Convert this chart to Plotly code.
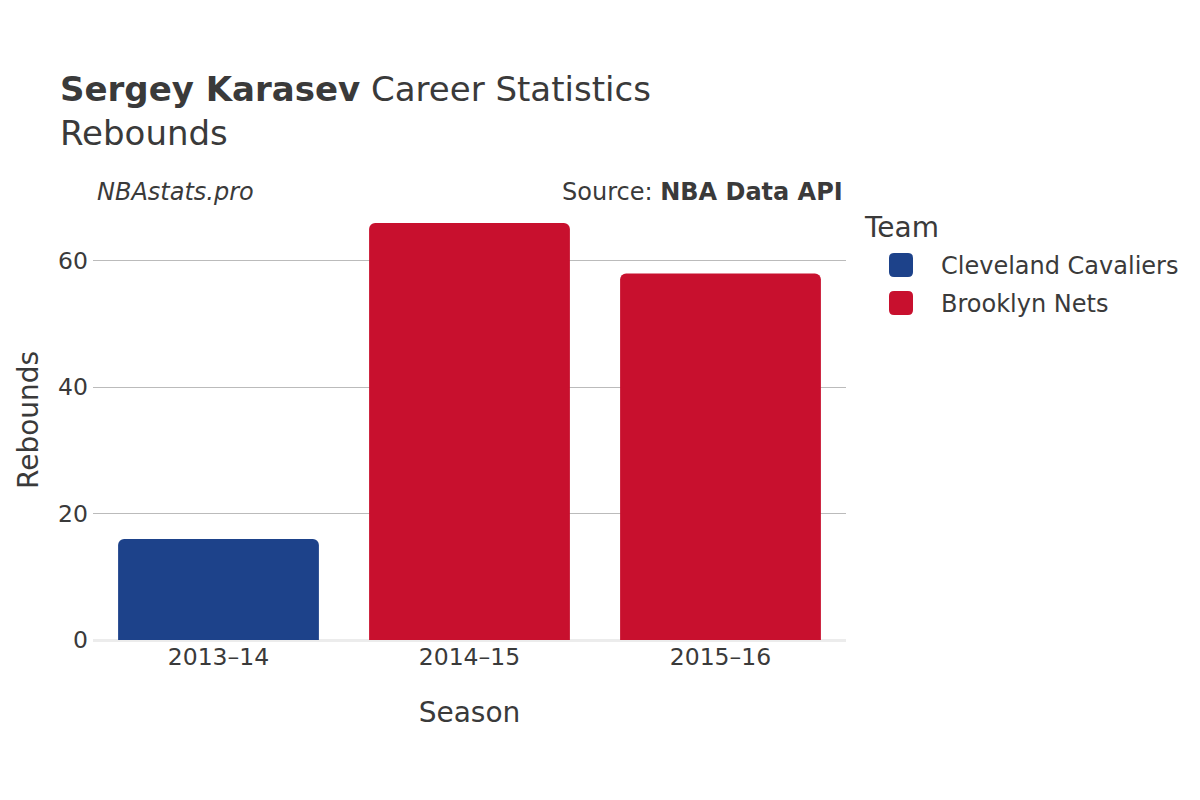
import plotly.graph_objects as go

seasons = ["2013–14", "2014–15", "2015–16"]
teams = ["Cleveland Cavaliers", "Brooklyn Nets", "Brooklyn Nets"]
rebounds = [16, 66, 58]
team_order = ["Cleveland Cavaliers", "Brooklyn Nets"]
team_colors = {"Cleveland Cavaliers": "#1D428A", "Brooklyn Nets": "#C8102E"}

FONT = "DejaVu Sans"
TXT = "#3a3a3a"

# plot area in page pixels (used only for legend/annotation placement)
PL, PR, PT, PB = 93, 846, 201, 640


def px(x):
    return (x - PL) / (PR - PL)


def py(y):
    return (PB - y) / (PB - PT)


fig = go.Figure()
for team in team_order:
    xs = [s for s, t in zip(seasons, teams) if t == team]
    ys = [v for v, t in zip(rebounds, teams) if t == team]
    fig.add_trace(go.Bar(
        x=xs, y=ys, name=team, showlegend=False,
        marker=dict(color=team_colors[team], cornerradius=6,
                    line=dict(width=0)),
    ))

# custom legend (rounded square swatches + labels)
rsq = ("M -7,-12 L 7,-12 Q 12,-12 12,-7 L 12,7 Q 12,12 7,12 "
       "L -7,12 Q -12,12 -12,7 L -12,-7 Q -12,-12 -7,-12 Z")
shapes = []
annotations = [
    dict(text="<i>NBAstats.pro</i>", xref="paper", yref="paper",
         x=0.002, y=py(192), xanchor="left", yanchor="middle",
         showarrow=False, font=dict(size=24, color=TXT)),
    dict(text="Source: <b>NBA Data API</b>", xref="paper", yref="paper",
         x=0.999, y=py(192), xanchor="right", yanchor="middle",
         showarrow=False, font=dict(size=24, color=TXT)),
    dict(text="Team", xref="paper", yref="paper",
         x=px(862), y=py(227), xanchor="left", yanchor="middle",
         showarrow=False, font=dict(size=28, color=TXT)),
    dict(text="Rebounds", xref="paper", yref="paper", textangle=-90,
         x=px(28), y=py(420), xanchor="center", yanchor="middle",
         showarrow=False, font=dict(size=28, color=TXT)),
]
for i, team in enumerate(team_order):
    cy = 265 + 38 * i
    shapes.append(dict(
        type="path", xref="paper", yref="paper",
        xsizemode="pixel", ysizemode="pixel",
        xanchor=px(901), yanchor=py(cy), path=rsq,
        fillcolor=team_colors[team], line=dict(width=0),
    ))
    annotations.append(dict(
        text=team, xref="paper", yref="paper",
        x=px(939), y=py(cy + 1), xanchor="left", yanchor="middle",
        showarrow=False, font=dict(size=24, color=TXT),
    ))

fig.update_layout(
    width=1200, height=800,
    paper_bgcolor="white", plot_bgcolor="white",
    font=dict(family=FONT, color=TXT),
    barmode="relative", bargap=0.2,
    margin=dict(l=PL - 8, r=1200 - (PR - 8), t=PT - 8, b=800 - (PB - 8)),
    title=dict(
        text="<b>Sergey Karasev</b> Career Statistics<br>Rebounds",
        x=52 / 1200, xanchor="left", y=0.884, yanchor="top",
        font=dict(size=34, family=FONT, color=TXT),
    ),
    showlegend=False,
    xaxis=dict(
        categoryorder="array", categoryarray=seasons,
        title=dict(text="Season", font=dict(size=28), standoff=32),
        tickfont=dict(size=23.5),
        showgrid=False, ticks="", showline=False,
    ),
    yaxis=dict(
        title=dict(text=""),
        tickfont=dict(size=23.5),
        showgrid=True, gridcolor="#bbbbbb", gridwidth=1,
        zeroline=True, zerolinecolor="#ececec", zerolinewidth=3,
        dtick=20, ticks="", ticklabelstandoff=4,
    ),
    shapes=shapes,
    annotations=annotations,
)

fig.write_html("out.html")
